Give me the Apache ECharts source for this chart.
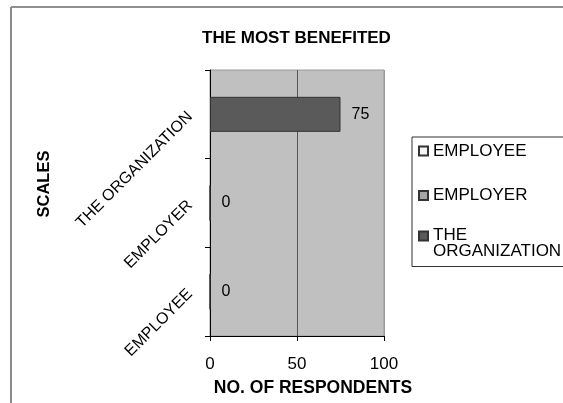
<!DOCTYPE html>
<html>
<head>
<meta charset="utf-8">
<script src="https://cdn.jsdelivr.net/npm/echarts@6/dist/echarts.min.js"></script>
<style>
  html, body { margin: 0; padding: 0; background: #fff; }
  #chart { width: 563px; height: 403px; }
</style>
</head>
<body>
<div id="chart"></div>
<script>
// Survey answers: who benefited the most
const categories = ['EMPLOYEE', 'EMPLOYER', 'THE ORGANIZATION'];
const respondents = [0, 0, 75];
const xTicks = [0, 50, 100];
const seriesColors = ['#f4f4f4', '#a6a6a6', '#5a5a5a'];

const FONT = "'Liberation Sans', Arial, sans-serif";

// One series per category, stacked so every bar sits centred in its own band
const series = categories.map((name, i) => ({
  name: name,
  type: 'bar',
  stack: 'answers',
  barWidth: 35,
  data: categories.map((c, j) => (j === i ? respondents[j] : '-')),
  itemStyle: { color: seriesColors[i], borderColor: '#333', borderWidth: 1 },
  label: {
    show: true,
    position: 'right',
    distance: 11,
    color: '#000',
    fontFamily: FONT,
    fontSize: 16
  }
}));

// Multi-word legend entries wrap onto a second line that hangs below the icon row
function legendLabel(name) {
  const words = name.split(' ');
  if (words.length < 2) return name;
  return '{a|' + words[0] + '}\n{b|' + words.slice(1).join(' ') + '}';
}

const chart = echarts.init(document.getElementById('chart'), null, { renderer: 'canvas' });
chart.setOption({
  animation: false,
  backgroundColor: '#fff',
  textStyle: { fontFamily: FONT },
  title: {
    text: 'THE MOST BENEFITED',
    left: 202,
    top: 30,
    padding: 0,
    textStyle: { fontFamily: FONT, fontSize: 17, fontWeight: 'bold', color: '#000' }
  },
  legend: {
    orient: 'vertical',
    left: 412,
    top: 137,
    padding: [1, 12, 7, 6],
    itemGap: 23,
    itemWidth: 9,
    itemHeight: 9,
    icon: 'rect',
    borderColor: '#333',
    borderWidth: 1,
    data: [
      { name: categories[0], textStyle: { lineHeight: 26 } },
      { name: categories[1] },
      { name: categories[2] }
    ],
    formatter: legendLabel,
    textStyle: {
      fontFamily: FONT, fontSize: 17, lineHeight: 16, color: '#000',
      rich: {
        a: { fontFamily: FONT, fontSize: 17, lineHeight: 14, color: '#000' },
        b: { fontFamily: FONT, fontSize: 17, lineHeight: 1, verticalAlign: 'top', color: '#000' }
      }
    }
  },
  grid: {
    left: 210,
    right: 179,
    top: 70,
    bottom: 67,
    show: true,
    backgroundColor: '#c0c0c0',
    borderColor: '#9a9a9a',
    borderWidth: 1
  },
  xAxis: {
    type: 'value',
    min: xTicks[0],
    max: xTicks[xTicks.length - 1],
    interval: xTicks[1] - xTicks[0],
    name: 'NO. OF RESPONDENTS',
    nameLocation: 'middle',
    nameGap: 43,
    nameTextStyle: {
      fontFamily: FONT, fontSize: 17.5, fontWeight: 'bold', color: '#000',
      padding: [0, 0, 0, 32]
    },
    axisLine: { show: true, lineStyle: { color: '#000', width: 1 } },
    axisTick: { show: true, length: 5, lineStyle: { color: '#000' } },
    axisLabel: { margin: 20, fontFamily: FONT, fontSize: 17, color: '#000' },
    splitLine: { show: true, lineStyle: { color: ['#9a9a9a', '#555', '#9a9a9a'], width: 1 } }
  },
  yAxis: {
    type: 'category',
    data: categories,
    name: 'SCALES',
    nameLocation: 'middle',
    nameGap: 157,
    nameTextStyle: {
      fontFamily: FONT, fontSize: 16.5, fontWeight: 'bold', color: '#000',
      padding: [0, 0, 0, 38]
    },
    axisLine: { show: true, lineStyle: { color: '#000', width: 1 } },
    axisTick: { show: true, length: 5, lineStyle: { color: '#000' } },
    axisLabel: { rotate: 45, margin: 20, fontFamily: FONT, fontSize: 16, color: '#000' },
    splitLine: { show: false }
  },
  graphic: [
    { type: 'line', shape: { x1: 11, y1: 7, x2: 563, y2: 7 }, style: { stroke: '#222', lineWidth: 1 }, silent: true },
    { type: 'line', shape: { x1: 11, y1: 7, x2: 11, y2: 403 }, style: { stroke: '#8a8a8a', lineWidth: 2 }, silent: true }
  ],
  series: series
});
</script>
</body>
</html>
